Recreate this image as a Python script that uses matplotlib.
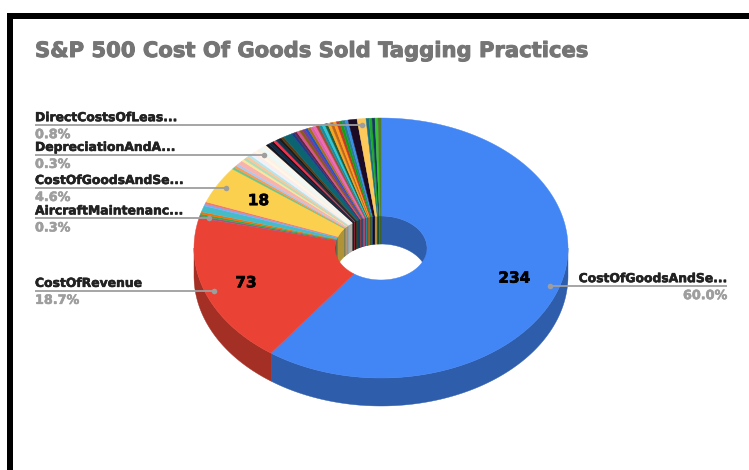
import numpy as np
import matplotlib
matplotlib.use("Agg")
import matplotlib.pyplot as plt
import matplotlib.patheffects as pe
from matplotlib.colors import to_rgb

title = "S&P 500 Cost Of Goods Sold Tagging Practices"

# tag counts per slice, clockwise from 12 o'clock
main_counts = [234, 73]
main_colors = ["#4285f4", "#ea4335"]

small_counts_a = [1, 1, 1, 3, 1, 1]
small_colors_a = ["#a8527c", "#34a853", "#ff6d01", "#46bdc6", "#7baaf7", "#f07b72"]

yellow_counts = [18]
yellow_colors = ["#fcd04f"]

light_counts = [1, 1, 1, 2, 1, 1, 1, 1, 1, 1, 1, 1, 1, 1, 1]
light_colors = ["#71c287", "#ff994d", "#a8c9f5", "#f7b4ae", "#fde49b", "#aedcba", "#ffc599", "#b5e5e8",
                "#ecf3fe", "#fdecea", "#fff8e6", "#fff0e6", "#eef8f1", "#edf9fa", "#fdf3e7"]

dark_counts = [1, 1, 1, 1, 1, 1, 1, 3, 1, 1, 1, 1, 1, 1, 1, 1, 1, 1, 1, 1, 1, 1, 1, 1, 1, 1, 1, 1, 3]
dark_colors = ["#14141c", "#0c2a4a", "#17171f", "#f5304a", "#123048", "#1a1a1a", "#5b3a12", "#0b6470",
               "#1b3c8c", "#5c2748", "#d9558c", "#8a5a14", "#7a3c8c", "#1f53c9", "#a6701a", "#e060b0",
               "#f06ab0", "#a04d38", "#1a8c9a", "#2fc4d8", "#1e5e3a", "#f5a623", "#c0661a", "#ff9a1a",
               "#c0392b", "#12a012", "#2a7f8f", "#3a8ee8", "#1c0a26"]

tail_counts = [3, 1, 1, 1, 1, 1]
tail_colors = ["#fcc95a", "#17707f", "#1fa82e", "#123a5a", "#36c236", "#4f7f2a"]

counts = main_counts + small_counts_a + yellow_counts + light_counts + dark_counts + tail_counts
colors = main_colors + small_colors_a + yellow_colors + light_colors + dark_colors + tail_colors

# slice index, label text
callout_slices = [0, 1, 2, 8, 20, len(counts) - 6]
callout_names = ["CostOfGoodsAndSe...", "CostOfRevenue", "AircraftMaintenanc...", "CostOfGoodsAndSe...",
                 "DepreciationAndA...", "DirectCostsOfLeas..."]
callout_side = ["right", "left", "left", "left", "left", "left"]
inside_slices = [0, 1, 8]

cx, cy = 381, 248
rx, ry = 187, 130
hole = 0.246
depth = 28
dot_r = 0.95
text_r = {0: 0.75, 1: 0.77, 8: 0.75}


def arc(start, end, scale, shift=0):
    # angles in degrees, clockwise from the top
    t = np.radians(np.linspace(start, end, max(int(end - start) * 3, 2)))
    return cx + rx * scale * np.sin(t), cy + shift - ry * scale * np.cos(t)


def darker(color):
    return tuple(c * 0.7 for c in to_rgb(color))


def wall(ax, start, end, scale, color):
    if end <= start:
        return
    x, y = arc(start, end, scale)
    x2, y2 = arc(start, end, scale, depth)
    ax.fill(np.r_[x, x2[::-1]], np.r_[y, y2[::-1]], color=color, lw=0.3)


def heavy(width, color):
    return [pe.withStroke(linewidth=width, foreground=color)]


def main():
    fig = plt.figure(figsize=(7.49, 4.7), dpi=100)
    ax = fig.add_axes([0, 0, 1, 1])
    ax.set_xlim(0, 749)
    ax.set_ylim(470, 0)
    ax.axis("off")

    # black frame along the top and left only
    ax.fill([7, 749, 749, 7], [13, 13, 19, 19], color="black", lw=0)
    ax.fill([7, 13, 13, 7], [13, 13, 470, 470], color="black", lw=0)

    ax.text(35, 51, title, fontsize=15.2, fontweight="bold", color="#757575", va="center", ha="left",
            path_effects=heavy(0.7, "#757575"))

    edges = np.r_[0, np.cumsum(counts)] * 360.0 / sum(counts)

    for i in range(len(counts)):
        a, b = edges[i], edges[i + 1]
        # back of the hole, seen through the top face
        wall(ax, a, min(b, 90), hole, darker(colors[i]))
        wall(ax, max(a, 270), b, hole, darker(colors[i]))
        # front rim
        wall(ax, max(a, 90), min(b, 270), 1, darker(colors[i]))

    for i in range(len(counts)):
        x, y = arc(edges[i], edges[i + 1], 1)
        x2, y2 = arc(edges[i], edges[i + 1], hole)
        ax.fill(np.r_[x, x2[::-1]], np.r_[y, y2[::-1]], color=colors[i], lw=0.3)

    total = sum(counts)
    for idx, name, side in zip(callout_slices, callout_names, callout_side):
        mid = np.radians((edges[idx] + edges[idx + 1]) / 2)
        dx = cx + rx * dot_r * np.sin(mid)
        dy = cy - ry * dot_r * np.cos(mid)
        pct = "%.1f%%" % (100.0 * counts[idx] / total)
        end = 727 if side == "right" else 35
        ha = "right" if side == "right" else "left"
        ax.plot([dx, end], [dy, dy], color="#9e9e9e", lw=1.3, solid_capstyle="butt")
        ax.plot([dx], [dy], "o", color="#9e9e9e", ms=4, mew=0)
        ax.text(end, dy - 4, name, fontsize=8.9, fontweight="bold", color="#222222", ha=ha, va="baseline",
                path_effects=heavy(0.4, "#222222"))
        ax.text(end, dy + 13, pct, fontsize=9.2, fontweight="bold", color="#9e9e9e", ha=ha, va="baseline",
                path_effects=heavy(0.4, "#9e9e9e"))

    for idx in inside_slices:
        mid = np.radians((edges[idx] + edges[idx + 1]) / 2)
        ax.text(cx + rx * text_r[idx] * np.sin(mid), cy - ry * text_r[idx] * np.cos(mid), str(counts[idx]),
                fontsize=11, fontweight="bold", color="black", ha="center", va="center",
                path_effects=heavy(0.5, "black"))

    fig.savefig("out.png", dpi=100)


if __name__ == "__main__":
    main()
